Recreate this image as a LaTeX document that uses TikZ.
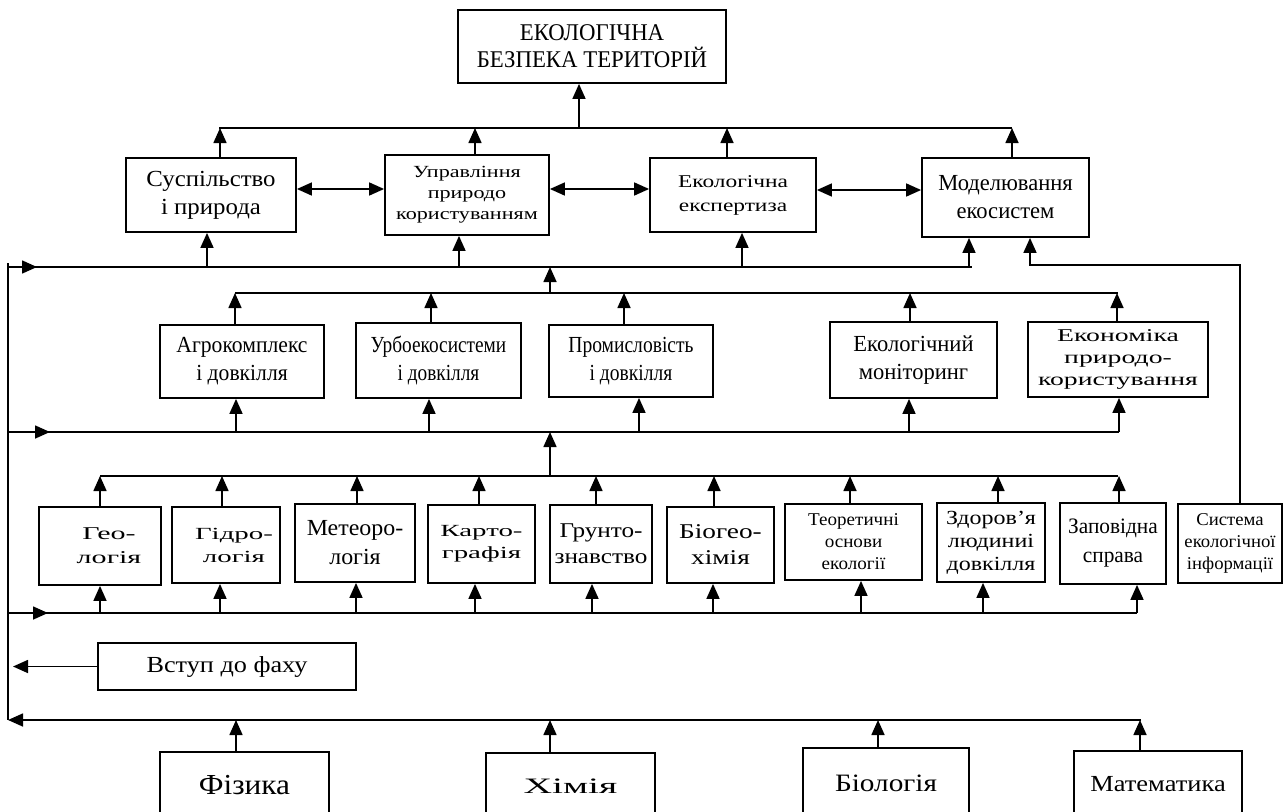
\documentclass[tikz,border=0pt]{standalone}
\usepackage{fontspec}
\setmainfont{Liberation Serif}
\newcommand\FS[3]{\fontspec[FakeStretch=#1]{Liberation Serif}\fontsize{#2}{#3}\selectfont}
\usetikzlibrary{arrows.meta,calc}
\begin{document}
\begin{tikzpicture}[x=1pt,y=-1pt,line width=1.6pt,
  box/.style={draw,rectangle,inner sep=0pt,align=center,line width=1.8pt},
  arr/.style={-{Triangle[length=15pt,width=13pt]}},
  darr/.style={{Triangle[length=15pt,width=13pt]}-{Triangle[length=15pt,width=13pt]}}]
\path[use as bounding box] (0,0) rectangle (1284,811);
\clip (0,0) rectangle (1284,811);
% level 0
\node[box,minimum width=268pt,minimum height=73pt,font={\FS{0.95}{24}{27}}] (top) at (592,46.5) {ЕКОЛОГІЧНА\\БЕЗПЕКА ТЕРИТОРІЙ};
% level 1
\node[box,minimum width=170pt,minimum height=74pt,font={\FS{1.08}{23}{28}}] (sus) at (211,195) {Суспільство\\і природа};
\node[box,minimum width=164pt,minimum height=80pt,font={\FS{1.3}{17}{21}}] (upr) at (467,195) {Управління\\природо\\користуванням};
\node[box,minimum width=166pt,minimum height=74pt,font={\FS{1.3}{18}{24}}] (eksp) at (733,195) {Екологічна\\експертиза};
\node[box,minimum width=167pt,minimum height=79pt,font={\FS{0.98}{23}{28}}] (mod) at (1005.5,197.5) {Моделювання\\екосистем};
% level 2
\node[box,minimum width=164pt,minimum height=73pt,font={\FS{0.94}{23}{28}}] (agro) at (242,361.5) {Агрокомплекс\\і довкілля};
\node[box,minimum width=165pt,minimum height=75pt,font={\FS{0.84}{23}{28}}] (urbo) at (438.5,360.5) {Урбоекосистеми\\і довкілля};
\node[box,minimum width=164pt,minimum height=72pt,font={\FS{0.85}{23}{28}}] (prom) at (631,361) {Промисловість\\і довкілля};
\node[box,minimum width=167pt,minimum height=76pt,font={\FS{0.98}{23}{28}}] (mon) at (913.5,360) {Екологічний\\моніторинг};
\node[box,minimum width=180pt,minimum height=75pt,font={\FS{1.54}{18}{22}}] (econ) at (1118,359.5) {Економіка\\природо-\\користування};
% level 3
\node[box,minimum width=122pt,minimum height=78pt,font={\FS{1.67}{18}{24}}] (geo) at (100,546) {\hspace*{18pt}Гео-\\\hspace*{18pt}логія};
\node[box,minimum width=108pt,minimum height=76pt,font={\FS{1.7}{17}{23}}] (hyd) at (226,545) {\hspace*{16pt}Гідро-\\\hspace*{16pt}логія};
\node[box,minimum width=120pt,minimum height=78pt,font={\FS{1.04}{23}{29}}] (met) at (355,543) {Метеоро-\\логія};
\node[box,minimum width=107pt,minimum height=78pt,font={\FS{1.7}{17}{22}}] (kart) at (481.5,544) {Карто-\\графія};
\node[box,minimum width=102pt,minimum height=78pt,font={\FS{1.2}{21}{26}}] (grunt) at (601,544) {Грунто-\\знавство};
\node[box,minimum width=107pt,minimum height=76pt,font={\FS{1.3}{21}{26}}] (bio) at (720.5,545) {Біогео-\\хімія};
\node[box,minimum width=137pt,minimum height=76pt,font={\FS{1.06}{18}{22}}] (teor) at (853.5,542) {Теоретичні\\основи\\екології};
\node[box,minimum width=108pt,minimum height=79pt,font={\FS{1.2}{20}{23}}] (zdor) at (991,542.5) {Здоров’я\\людиниі\\довкілля};
\node[box,minimum width=106pt,minimum height=81pt,font={\FS{0.97}{22}{29}}] (zap) at (1113,543.5) {Заповідна\\справа};
\node[box,minimum width=104pt,minimum height=79pt,font={\FS{1.04}{18}{22}}] (sys) at (1230,543.5) {Система\\екологічної\\інформації};
% intro
\node[box,minimum width=258pt,minimum height=47pt,font={\FS{1.14}{23}{28}}] (vstup) at (227,666.5) {Вступ до фаху};
% base
\node[box,minimum width=169pt,minimum height=66pt,font={\FS{1.08}{29}{32}}] (fiz) at (244.5,785) {Фізика};
\node[box,minimum width=169pt,minimum height=66pt,font={\FS{1.8}{22}{28}}] (chem) at (570.5,786) {Хімія};
\node[box,minimum width=166pt,minimum height=70pt,font={\FS{1.17}{25}{28}}] (biol) at (886,783) {Біологія};
\node[box,minimum width=168pt,minimum height=67pt,font={\FS{1.15}{23}{28}}] (mat) at (1158,784.5) {Математика};
% bus coordinates
\coordinate (T1) at (219,128); \coordinate (T2) at (1012,128);
\coordinate (A0) at (8,267); \coordinate (A1) at (972,267); \coordinate (Ah) at (37,267);
\coordinate (B1) at (235,293); \coordinate (B2) at (1118,293);
\coordinate (L0) at (8,432); \coordinate (L1) at (1119,432); \coordinate (Lh) at (50,432);
\coordinate (C1) at (100,476); \coordinate (C2) at (1118,476);
\coordinate (D0) at (8,613); \coordinate (D1) at (1137,613); \coordinate (Dh) at (48,613);
\coordinate (E0) at (8,720); \coordinate (E1) at (1141,720);
\coordinate (VT) at (8,263);
\coordinate (SC) at (1030,265); \coordinate (VS) at (13,661);
% left trunk
\draw (VT) -- (E0);
% top bus
\draw (T1) -- (T2);
\draw[arr] (579,0 |- T1) -- (579,0 |- top.south);
\foreach \x/\n in {220/sus,475/upr,727/eksp,1012/mod} \draw[arr] (\x,0 |- \n.north) -- (\x,0 |- T1);
% double arrows
\draw[darr] (sus.east |- 0,189) -- (upr.west |- 0,189);
\draw[darr] (upr.east |- 0,189) -- (eksp.west |- 0,189);
\draw[darr] (eksp.east |- 0,190) -- (mod.west |- 0,190);
% bus A
\draw (A0) -- (A1);
\draw[arr] (A0) -- (Ah);
\foreach \x/\n in {207/sus,459/upr,742/eksp,969/mod} \draw[arr] (\x,0 |- A0) -- (\x,0 |- \n.south);
\draw[arr] (550,0 |- B1) -- (550,0 |- A0);
% bus B
\draw (B1) -- (B2);
\foreach \x/\n in {235/agro,431/urbo,624/prom,910/mon,1117/econ} \draw[arr] (\x,0 |- \n.north) -- (\x,0 |- B1);
\draw (L0) -- (L1);
\draw[arr] (L0) -- (Lh);
\foreach \x/\n in {236/agro,429/urbo,639/prom,909/mon,1119/econ} \draw[arr] (\x,0 |- L0) -- (\x,0 |- \n.south);
\draw[arr] (550,0 |- C1) -- (550,0 |- L0);
% bus C
\draw (C1) -- (C2);
\foreach \x/\n in {100/geo,222/hyd,357/met,479/kart,596/grunt,714/bio,850/teor,998/zdor,1119/zap} \draw[arr] (\x,0 |- \n.north) -- (\x,0 |- C1);
\draw (D0) -- (D1);
\draw[arr] (D0) -- (Dh);
\foreach \x/\n in {100/geo,220/hyd,356/met,475/kart,592/grunt,713/bio,861/teor,983/zdor,1137/zap} \draw[arr] (\x,0 |- D0) -- (\x,0 |- \n.south);
% system info link
\draw[arr] (1240,0 |- sys.north) |- (SC) -- (SC |- mod.south);
% intro
\draw[arr] (vstup.west) -- (VS |- vstup.west);
% base bus
\draw[arr] (E1) -- (E0);
\foreach \x/\n in {236/fiz,550/chem,878/biol,1140/mat} \draw[arr] (\x,0 |- \n.north) -- (\x,0 |- E0);
\end{tikzpicture}
\end{document}
